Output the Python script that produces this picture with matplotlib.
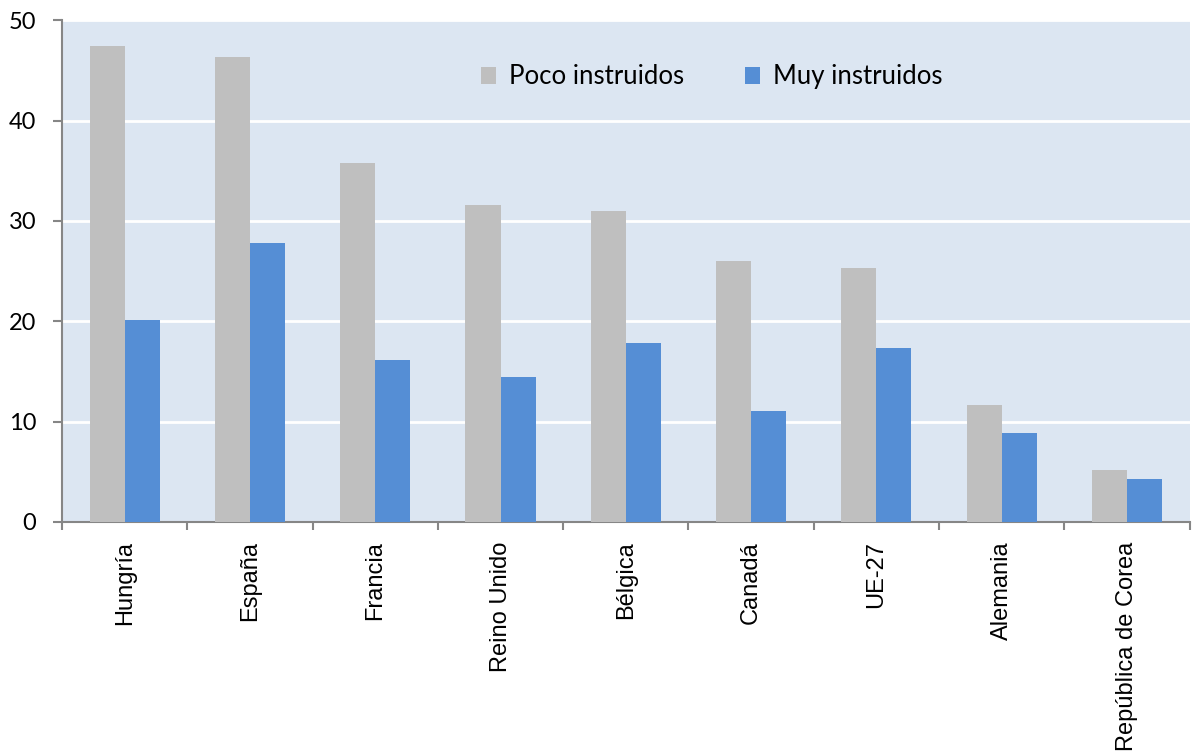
import numpy as np
import matplotlib.pyplot as plt
from matplotlib.ticker import FixedLocator

paises = ['Hungría', 'España', 'Francia', 'Reino Unido', 'Bélgica',
          'Canadá', 'UE-27', 'Alemania', 'República de Corea']
poco_instruidos = [47.4, 46.3, 35.8, 31.6, 31.0, 26.0, 25.3, 11.7, 5.2]
muy_instruidos = [20.1, 27.8, 16.1, 14.4, 17.8, 11.1, 17.3, 8.9, 4.3]

plt.rcParams['font.family'] = ['Lato', 'DejaVu Sans']

fig = plt.figure(figsize=(11.92, 7.52), dpi=100)
ax = fig.add_axes([0.052, 0.306, 0.946, 0.667])
ax.set_facecolor('#DCE6F2')

x = np.arange(len(paises))
w = 0.28
ax.bar(x - w / 2, poco_instruidos, w, color='#BFBFBF', label='Poco instruidos', zorder=3)
ax.bar(x + w / 2, muy_instruidos, w, color='#558ED5', label='Muy instruidos', zorder=3)

ax.set_xlim(-0.5, len(paises) - 0.5)
ax.set_ylim(0, 50)
ax.set_yticks(range(0, 51, 10))
ax.yaxis.grid(True, color='white', linewidth=2, zorder=1)

# etiquetas de paises en Arial (Liberation Sans), como en el original
ax.set_xticks(x)
ax.set_xticklabels(paises, rotation=90, fontsize=17,
                   family=['Liberation Sans', 'DejaVu Sans'])
ax.xaxis.set_minor_locator(FixedLocator(np.arange(-0.5, len(paises), 1.0)))
ax.tick_params(axis='x', which='major', length=0, pad=14)
ax.tick_params(axis='x', which='minor', length=5.5, color='#868686', width=1.5)
ax.tick_params(axis='y', length=6.5, color='#868686', width=1.5, labelsize=17, pad=12)

for s in ['top', 'right']:
    ax.spines[s].set_visible(False)
for s in ['left', 'bottom']:
    ax.spines[s].set_color('#868686')
    ax.spines[s].set_linewidth(1.5)

ax.legend(loc='center', bbox_to_anchor=(0.576, 0.887), ncol=2, frameon=False,
          fontsize=18.5, handlelength=0.6, handleheight=0.6, handletextpad=0.5,
          columnspacing=2.35)

fig.savefig('out.png', dpi=100)
